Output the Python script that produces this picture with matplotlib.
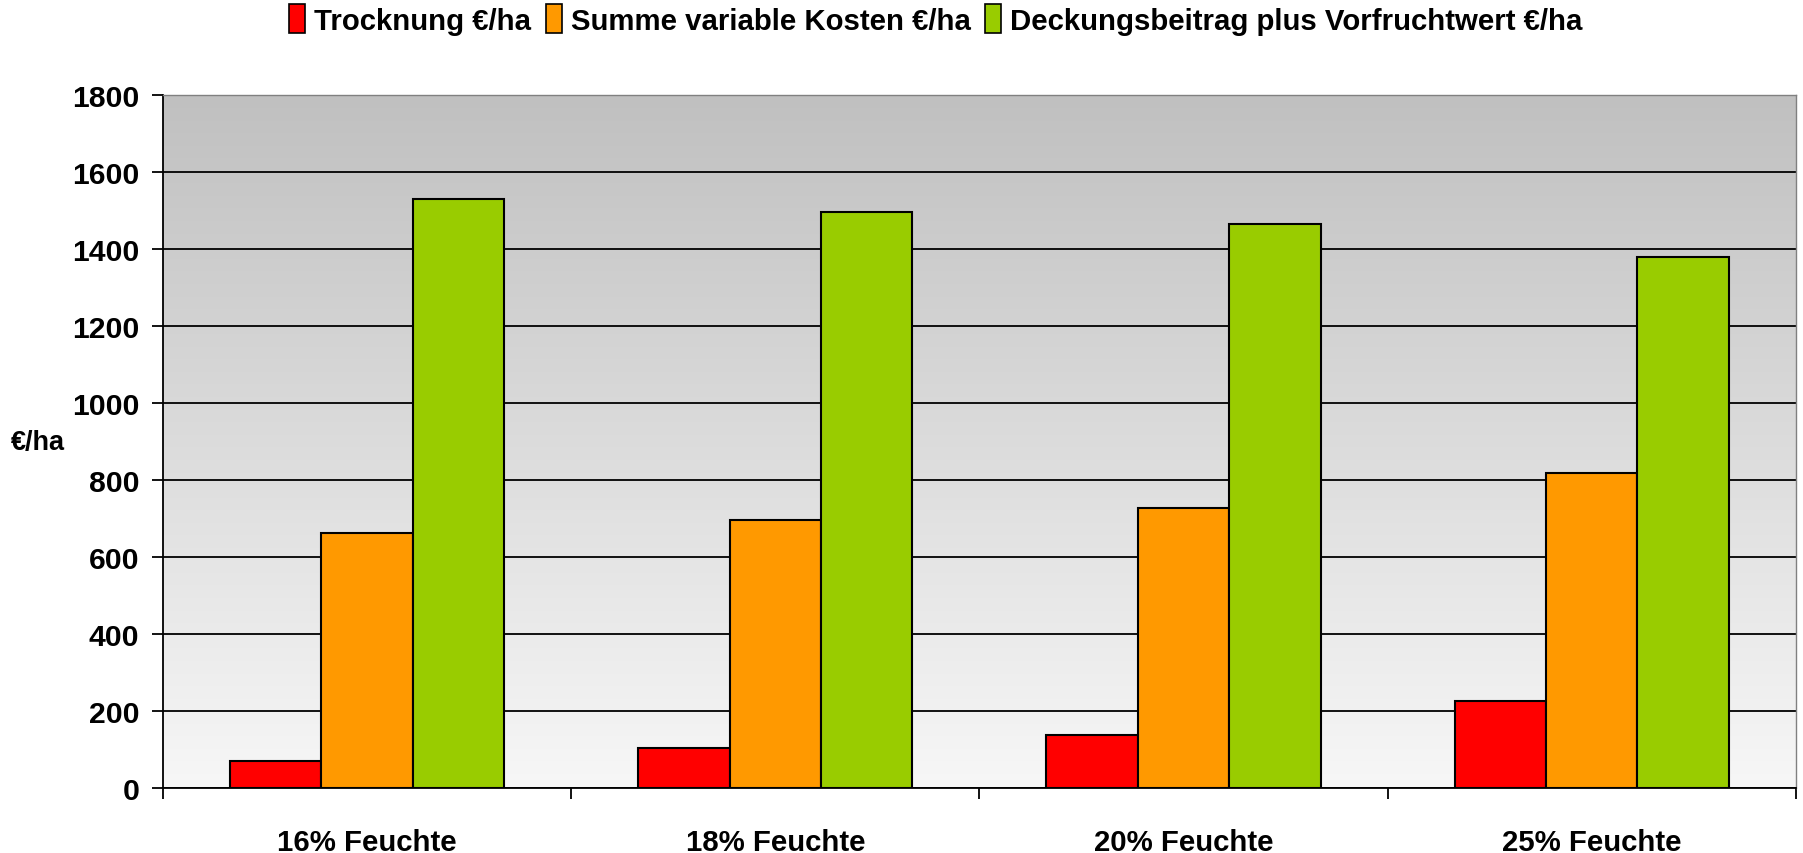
import numpy as np
import matplotlib.pyplot as plt
from matplotlib.patches import Patch

plt.rcParams['font.family'] = ['Liberation Sans', 'DejaVu Sans']
plt.rcParams['font.weight'] = 'bold'

# daten
categories = ['16% Feuchte', '18% Feuchte', '20% Feuchte', '25% Feuchte']
series_names = ['Trocknung €/ha', 'Summe variable Kosten €/ha',
                'Deckungsbeitrag plus Vorfruchtwert €/ha']
trocknung = [70, 104, 137, 227]
variable_kosten = [663, 695, 728, 818]
deckungsbeitrag = [1528, 1495, 1463, 1379]
colors = ['#FF0000', '#FF9900', '#99CC00']
yticks = [0, 200, 400, 600, 800, 1000, 1200, 1400, 1600, 1800]

fig = plt.figure(figsize=(18.03, 8.54), dpi=100)
ax = fig.add_axes([0.0904, 0.0761, 0.9056, 0.812])

# hintergrund-verlauf
grad = np.linspace(0, 1, 256).reshape(-1, 1)
ax.imshow(grad, extent=[0, 1, 0, 1], transform=ax.transAxes, aspect='auto',
          cmap=plt.matplotlib.colors.LinearSegmentedColormap.from_list(
              'bg', ['#f7f7f7', '#c0c0c0']),
          origin='lower', zorder=0)

x = np.arange(len(categories))
w = 0.224
for i, vals in enumerate([trocknung, variable_kosten, deckungsbeitrag]):
    ax.bar(x + (i - 1) * w, vals, w, color=colors[i], edgecolor='black',
           linewidth=1.5, zorder=3)

ax.set_xlim(-0.5, len(categories) - 0.5)
ax.set_ylim(0, 1800)
ax.set_yticks(yticks)
ax.yaxis.grid(True, color='black', linewidth=1.3, zorder=1)
ax.set_axisbelow(True)
ax.tick_params(axis='y', labelsize=21.7, length=8, width=1.3, pad=9, direction='out')

ax.set_xticks(np.arange(-0.5, len(categories), 1.0))
ax.set_xticklabels([])
ax.tick_params(axis='x', which='major', length=8, width=1.3, direction='out')
ax.set_xticks(x, minor=True)
ax.set_xticklabels(categories, minor=True, fontsize=21.2, fontweight='bold')
ax.tick_params(axis='x', which='minor', length=0, pad=29)

for s in ['left', 'bottom']:
    ax.spines[s].set_color('black')
    ax.spines[s].set_linewidth(1.3)
for s in ['top', 'right']:
    ax.spines[s].set_color('#808080')
    ax.spines[s].set_linewidth(1.0)

fig.text(0.0063, 0.481, '€/ha', fontsize=19.5, fontweight='bold', va='center', ha='left')

handles = [Patch(facecolor=c, edgecolor='black', linewidth=1.2) for c in colors]
fig.legend(handles, series_names, loc='center', bbox_to_anchor=(0.519, 0.976),
           ncol=3, frameon=False, fontsize=21.2, handlelength=0.55, handleheight=1.1,
           handletextpad=0.3, columnspacing=0.5, borderaxespad=0)

fig.savefig('out.png', dpi=100)
